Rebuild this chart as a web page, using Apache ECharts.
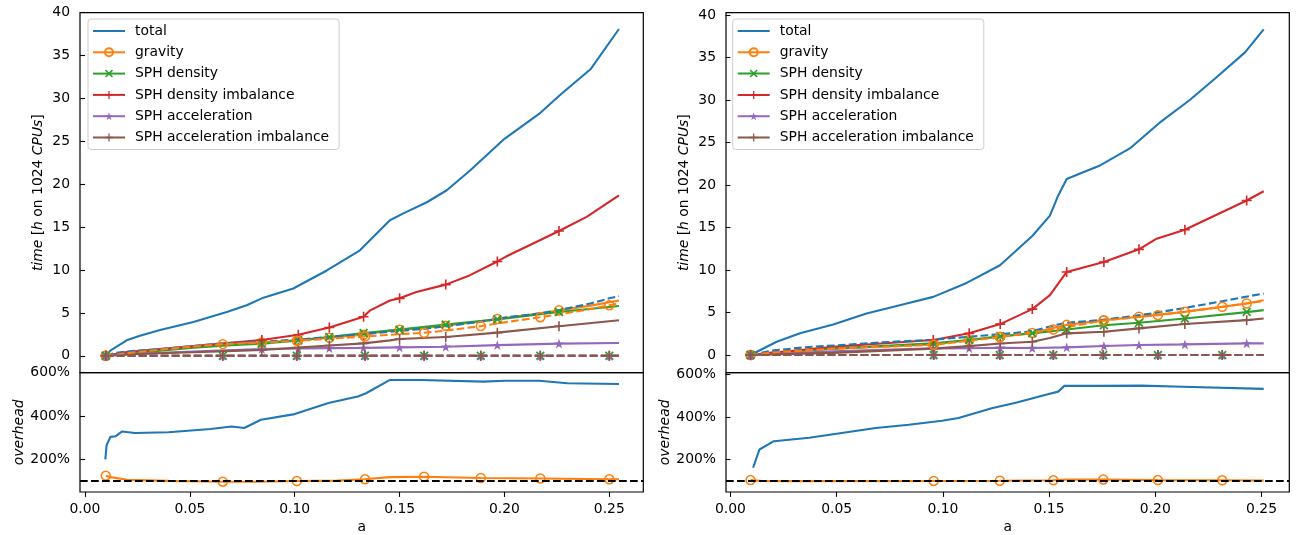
<!DOCTYPE html>
<html>
<head>
<meta charset="utf-8">
<script src="https://cdn.jsdelivr.net/npm/echarts@6/dist/echarts.min.js"></script>
<style>
  html, body { margin: 0; padding: 0; background: #fff; }
  #chart { width: 1298px; height: 535px; }
</style>
</head>
<body>
<div id="chart"></div>
<script>
// legend names
const NAMES = ['total', 'gravity', 'SPH density', 'SPH density imbalance', 'SPH acceleration', 'SPH acceleration imbalance'];
const X_TICKS = [0, 0.05, 0.10, 0.15, 0.20, 0.25];
const T_TICKS = [0, 5, 10, 15, 20, 25, 30, 35, 40];
const OV_TICKS = [200, 400, 600];

// ---- left panel, solid run (markers at its snapshots) ----
const L_RUN = [0.0099, 0.0843, 0.1017, 0.1165, 0.1328, 0.150, 0.172, 0.1966, 0.226];
const L_REF = [0.0099, 0.0657, 0.101, 0.1335, 0.1617, 0.1887, 0.2171, 0.25];

const L_total = [[0.0099,0],[0.0121,0.6],[0.0147,1.0],[0.0199,1.8],[0.0258,2.3],[0.0358,3.0],[0.0517,3.95],[0.0676,5.1],[0.0771,5.9],[0.0843,6.7],[0.0993,7.85],[0.1153,9.95],[0.1311,12.3],[0.1454,15.8],[0.1518,16.6],[0.163,17.9],[0.1725,19.3],[0.1836,21.6],[0.2,25.3],[0.2165,28.2],[0.2265,30.4],[0.241,33.4],[0.2546,38.1]];
const L_grav = [[0.0099,0],[0.02,0.3],[0.0358,0.7],[0.0517,1.05],[0.0657,1.3],[0.0843,1.55],[0.1017,1.8],[0.1165,2.1],[0.1328,2.45],[0.1454,2.95],[0.150,3.05],[0.1617,3.25],[0.172,3.5],[0.1887,4.0],[0.1966,4.3],[0.2171,4.95],[0.226,5.3],[0.241,5.85],[0.2546,6.45]];
const L_dens = [[0.0099,0],[0.02,0.25],[0.0358,0.6],[0.0517,0.95],[0.0676,1.2],[0.0843,1.4],[0.1017,1.8],[0.1165,2.2],[0.1328,2.65],[0.150,3.05],[0.172,3.65],[0.1966,4.25],[0.226,5.1],[0.2546,5.8]];
const L_densImb = [[0.0099,0],[0.0199,0.45],[0.0358,0.8],[0.0517,1.13],[0.0676,1.5],[0.0843,1.85],[0.1017,2.45],[0.1165,3.3],[0.1328,4.55],[0.136,5.3],[0.1454,6.45],[0.150,6.7],[0.158,7.45],[0.172,8.3],[0.1836,9.4],[0.1966,11.0],[0.201,11.6],[0.2154,13.3],[0.226,14.55],[0.2392,16.2],[0.2546,18.7]];
const L_acc = [[0.0099,0],[0.02,0.15],[0.0358,0.35],[0.0517,0.5],[0.0676,0.65],[0.0843,0.8],[0.1017,0.85],[0.1165,0.9],[0.1328,0.92],[0.150,0.98],[0.172,1.05],[0.1966,1.25],[0.226,1.42],[0.2546,1.5]];
const L_accImb = [[0.0099,0],[0.02,0.15],[0.0358,0.3],[0.0517,0.42],[0.0676,0.55],[0.0843,0.68],[0.1017,0.95],[0.1165,1.2],[0.1328,1.45],[0.1454,1.8],[0.150,1.95],[0.172,2.2],[0.1966,2.7],[0.226,3.45],[0.2546,4.15]];
// left panel, reference run (dashed)
const L_refTotal = [[0.0099,0],[0.0147,0.35],[0.02,0.5],[0.0358,0.8],[0.0517,1.15],[0.0657,1.45],[0.0843,1.65],[0.1025,1.9],[0.1165,2.2],[0.1335,2.55],[0.15,2.9],[0.1617,3.15],[0.1725,3.45],[0.1887,4.0],[0.2,4.45],[0.2171,4.95],[0.2265,5.35],[0.241,6.1],[0.25,6.7],[0.2546,6.95]];
const L_refGrav = [[0.0099,0],[0.02,0.3],[0.0358,0.72],[0.0517,1.08],[0.0657,1.36],[0.0843,1.55],[0.101,1.75],[0.1165,2.0],[0.1335,2.25],[0.145,2.45],[0.1617,2.68],[0.1725,2.95],[0.1887,3.46],[0.2,3.9],[0.2171,4.5],[0.2265,4.85],[0.241,5.45],[0.25,5.9],[0.2546,6.1]];
const L_refZero = [[0.0099,0],[0.0657,0],[0.101,0],[0.1335,0],[0.1617,0],[0.1887,0],[0.2171,0],[0.25,0],[0.2546,0]];
// left overhead
const L_ovTotal = [[0.0097,200],[0.0103,265],[0.0121,304],[0.0147,307],[0.0177,329],[0.0237,322],[0.0398,325],[0.0599,340],[0.0699,352],[0.0759,345],[0.0839,383],[0.1,409],[0.1161,460],[0.1301,490],[0.134,505],[0.1452,566],[0.160,566],[0.190,559],[0.2,563],[0.2165,563],[0.230,551],[0.2546,548]];
const L_ovGrav = [[0.0099,125],[0.0121,118],[0.02,106],[0.04,101],[0.0657,97],[0.08,97],[0.101,100],[0.12,102],[0.1335,108],[0.145,118],[0.1617,120],[0.1887,114],[0.2171,112],[0.25,108],[0.2546,108]];

// ---- right panel ----
const R_RUN = [0.0095, 0.0955, 0.1124, 0.127, 0.1421, 0.1583, 0.1758, 0.1923, 0.2139, 0.243];
const R_REF = [0.0095, 0.0957, 0.1268, 0.152, 0.1755, 0.2012, 0.2315];

const R_total = [[0.0095,0],[0.0218,1.56],[0.0328,2.55],[0.0484,3.6],[0.0641,4.89],[0.083,6.06],[0.0955,6.84],[0.1112,8.48],[0.1269,10.56],[0.1421,14.0],[0.1504,16.4],[0.1543,18.77],[0.1583,20.7],[0.166,21.5],[0.174,22.3],[0.188,24.3],[0.2019,27.3],[0.2162,30.0],[0.228,32.5],[0.2422,35.6],[0.251,38.3]];
const R_grav = [[0.0095,0],[0.02,0.3],[0.0484,0.75],[0.0955,1.25],[0.1124,1.76],[0.127,2.15],[0.1421,2.6],[0.1583,3.55],[0.1758,4.1],[0.1923,4.5],[0.2139,5.08],[0.243,6.06],[0.251,6.45]];
const R_dens = [[0.0095,0],[0.02,0.3],[0.0484,0.75],[0.0955,1.37],[0.1124,1.76],[0.127,2.2],[0.1421,2.55],[0.1583,3.0],[0.1758,3.5],[0.1923,3.8],[0.2139,4.3],[0.243,5.05],[0.251,5.28]];
const R_densImb = [[0.0095,0],[0.0484,0.97],[0.0955,1.76],[0.1124,2.55],[0.127,3.64],[0.1421,5.4],[0.1504,7.04],[0.1583,9.77],[0.1758,10.95],[0.1923,12.43],[0.2006,13.69],[0.2139,14.74],[0.243,18.18],[0.251,19.27]];
const R_acc = [[0.0095,0],[0.0484,0.45],[0.0955,0.78],[0.1124,0.8],[0.127,0.85],[0.1421,0.82],[0.1583,0.9],[0.1758,1.06],[0.1923,1.17],[0.2139,1.25],[0.243,1.37],[0.251,1.37]];
const R_accImb = [[0.0095,0],[0.0484,0.25],[0.0955,0.75],[0.1124,1.05],[0.127,1.35],[0.1421,1.56],[0.1504,2.0],[0.1583,2.55],[0.1758,2.74],[0.1923,3.13],[0.2139,3.64],[0.243,4.1],[0.251,4.3]];
const R_refTotal = [[0.0095,0],[0.0205,0.55],[0.0371,0.95],[0.0508,1.15],[0.0684,1.45],[0.0955,1.8],[0.127,2.45],[0.141,2.75],[0.1543,3.6],[0.1583,3.8],[0.174,4.1],[0.1934,4.7],[0.2131,5.5],[0.2308,6.3],[0.251,7.24]];
const R_refGrav = [[0.0095,0],[0.02,0.3],[0.0484,0.75],[0.0957,1.2],[0.1268,2.1],[0.152,3.0],[0.1755,4.05],[0.2012,4.69],[0.2315,5.67],[0.251,6.35]];
const R_refZero = [[0.0095,0],[0.0957,0],[0.1268,0],[0.152,0],[0.1755,0],[0.2012,0],[0.2315,0],[0.251,0]];
const R_ovTotal = [[0.0107,161],[0.0137,247],[0.0205,286],[0.0371,302],[0.0508,322],[0.0684,348],[0.084,363],[0.0996,382],[0.1074,395],[0.123,441],[0.1348,468],[0.1494,507],[0.1543,519],[0.1572,546],[0.1738,546],[0.1934,547],[0.2129,542],[0.251,532]];
const R_ovGrav = [[0.0095,103],[0.015,99],[0.03,98],[0.0957,99],[0.1268,100],[0.152,102],[0.158,105],[0.1755,106],[0.2012,103],[0.2315,102],[0.251,101]];

const FONT = 'DejaVu Sans';
const FS = 13.9;
const COL = { blue: '#1f77b4', orange: '#ff7f0e', green: '#2ca02c', red: '#d62728', purple: '#9467bd', brown: '#8c564b' };
const SYM_X = 'path://M1.4,0L5,3.6L8.6,0L10,1.4L6.4,5L10,8.6L8.6,10L5,6.4L1.4,10L0,8.6L3.6,5L0,1.4Z';
const SYM_PLUS = 'path://M4.2,0H5.8V4.2H10V5.8H5.8V10H4.2V5.8H0V4.2H4.2Z';
const SYM_STAR = 'path://M50,0L61.2,34.5L97.6,34.5L68.2,55.9L79.4,90.5L50,69.1L20.6,90.5L31.8,55.9L2.4,34.5L38.8,34.5Z';
const DASH = [7.7, 3.3];

function pts(arr, marks) {
  return arr.map(p => {
    const m = marks && marks.some(a => Math.abs(a - p[0]) < 1e-6);
    return m ? { value: p } : { value: p, symbol: 'none' };
  });
}

function line(name, arr, marks, color, sym, dashed, gi, size) {
  const s = {
    name: name, type: 'line', xAxisIndex: gi, yAxisIndex: gi,
    data: pts(arr, marks),
    showSymbol: true, showAllSymbol: true,
    symbol: sym || 'none', symbolSize: size || 10,
    lineStyle: { color: color, width: 2.1, type: dashed ? DASH : 'solid' },
    itemStyle: { color: color },
    emphasis: { disabled: true },
    animation: false
  };
  if (sym === 'circle') {
    s.symbolSize = 9;
    s.itemStyle = { color: 'rgba(255,255,255,0)', borderColor: color, borderWidth: 1.5 };
  }
  // no marker at all: keep the legend icon a plain line
  if (!sym || sym === 'none') s.itemStyle = { color: 'rgba(255,255,255,0)' };
  return s;
}

function panel(gi, d) {
  const top = gi, bot = gi + 1;
  return [
    line('total', d.total, null, COL.blue, 'none', false, top),
    line('gravity', d.grav, d.run, COL.orange, 'circle', false, top),
    line('SPH density', d.dens, d.run, COL.green, SYM_X, false, top, 9),
    line('SPH density imbalance', d.densImb, d.run, COL.red, SYM_PLUS, false, top),
    line('SPH acceleration', d.acc, d.run, COL.purple, SYM_STAR, false, top, 10),
    line('SPH acceleration imbalance', d.accImb, d.run, COL.brown, SYM_PLUS, false, top),
    line('ref total', d.refTotal, null, COL.blue, 'none', true, top),
    line('ref gravity', d.refGrav, d.ref, COL.orange, 'circle', true, top),
    line('ref SPH density', d.refZero, d.ref, COL.green, SYM_X, true, top, 9),
    line('ref SPH density imbalance', d.refZero, d.ref, COL.red, SYM_PLUS, true, top),
    line('ref SPH acceleration', d.refZero, d.ref, COL.purple, SYM_STAR, true, top, 10),
    line('ref SPH acceleration imbalance', d.refZero, d.ref, COL.brown, SYM_PLUS, true, top),
    line('overhead total', d.ovTotal, null, COL.blue, 'none', false, bot),
    Object.assign(line('overhead gravity', d.ovGrav, d.ref, COL.orange, 'circle', false, bot), {
      markLine: {
        silent: true, symbol: 'none', label: { show: false },
        lineStyle: { color: '#000', width: 2.1, type: DASH },
        data: [{ yAxis: 100 }]
      }
    })
  ];
}

const txt = { color: '#000', fontFamily: FONT, fontSize: FS };

function xAxis(gi, min, max, labels) {
  return {
    type: 'value', gridIndex: gi, min: min, max: max,
    splitLine: { show: false }, axisLine: { show: false },
    axisTick: { show: labels, length: 4.9, lineStyle: { color: '#000', width: 1.1 }, customValues: X_TICKS },
    axisLabel: Object.assign({ show: labels, margin: 10, customValues: X_TICKS, formatter: v => v.toFixed(2) }, txt),
    name: labels ? 'a' : '', nameLocation: 'middle', nameGap: 28, nameTextStyle: txt
  };
}

function yAxis(gi, min, max, ticks, fmt, name) {
  return {
    type: 'value', gridIndex: gi, min: min, max: max,
    splitLine: { show: false }, axisLine: { show: false },
    axisTick: { show: true, length: 4.9, lineStyle: { color: '#000', width: 1.1 }, customValues: ticks },
    axisLabel: Object.assign({ margin: 10, customValues: ticks, formatter: fmt }, txt),
    name: name, nameLocation: 'middle', nameGap: 35,
    nameTextStyle: Object.assign({ rich: { i: Object.assign({ fontStyle: 'italic' }, txt) } }, txt)
  };
}

function legend(left) {
  return {
    left: left, top: 19, orient: 'vertical', data: NAMES,
    itemWidth: 32, itemHeight: 10, itemGap: 7.3,
    padding: [5, 10, 5, 4],
    backgroundColor: 'rgba(255,255,255,0.8)', borderColor: '#cccccc', borderWidth: 1, borderRadius: 3,
    textStyle: Object.assign({ padding: [0, 0, 0, 5], lineHeight: 14 }, txt),
    selectedMode: false
  };
}

const grid = (left, top, height) => ({ left: left, top: top, width: 563.3, height: height, show: true, borderColor: '#000', borderWidth: 1.2, backgroundColor: 'transparent' });

const chart = echarts.init(document.getElementById('chart'), null, { renderer: 'canvas' });
chart.setOption({
  animation: false,
  backgroundColor: '#fff',
  grid: [grid(80, 12.7, 360), grid(80, 372.7, 120), grid(726, 12.7, 360), grid(726, 372.7, 120)],
  legend: [legend(88), legend(732.7)],
  xAxis: [
    xAxis(0, -0.00238, 0.2662, false), xAxis(1, -0.00238, 0.2662, true),
    xAxis(2, -0.00205, 0.26305, false), xAxis(3, -0.00205, 0.26305, true)
  ],
  yAxis: [
    yAxis(0, -1.97, 40, T_TICKS, v => String(v), '{i|time} [{i|h} on 1024 {i|CPUs}]'),
    yAxis(1, 49.5, 600, OV_TICKS, v => v + '%', '{i|overhead}'),
    yAxis(2, -2.08, 40.27, T_TICKS, v => String(v), '{i|time} [{i|h} on 1024 {i|CPUs}]'),
    yAxis(3, 47, 608, OV_TICKS, v => v + '%', '{i|overhead}')
  ],
  series: [].concat(
    panel(0, { run: L_RUN, ref: L_REF, total: L_total, grav: L_grav, dens: L_dens, densImb: L_densImb, acc: L_acc, accImb: L_accImb,
      refTotal: L_refTotal, refGrav: L_refGrav, refZero: L_refZero, ovTotal: L_ovTotal, ovGrav: L_ovGrav }),
    panel(2, { run: R_RUN, ref: R_REF, total: R_total, grav: R_grav, dens: R_dens, densImb: R_densImb, acc: R_acc, accImb: R_accImb,
      refTotal: R_refTotal, refGrav: R_refGrav, refZero: R_refZero, ovTotal: R_ovTotal, ovGrav: R_ovGrav })
  )
});
</script>
</body>
</html>
